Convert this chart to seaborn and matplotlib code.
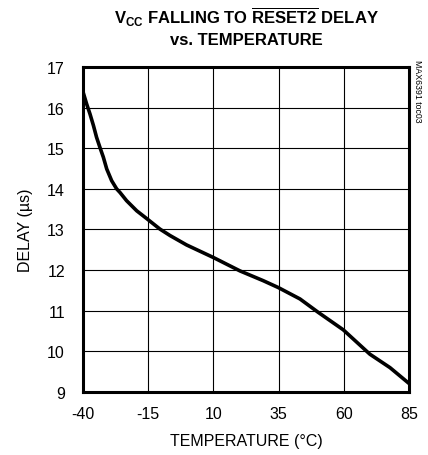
import numpy as np
import pandas as pd
import seaborn as sns
import matplotlib.pyplot as plt

# values
temp = [-40, -38.6, -37.3, -36.0, -34.8, -33.5, -32.2, -30.9, -29.0, -27.1, -25.8, -23.3,
        -19.4, -15.6, -10.5, -6.6, -0.3, 10.0, 20.2, 29.1, 34.9, 43.2, 50.2, 59.8, 70.0, 77.7, 85]
delay = [16.39, 16.09, 15.84, 15.56, 15.27, 15.02, 14.78, 14.49, 14.20, 14.00, 13.91, 13.71,
         13.46, 13.27, 13.01, 12.85, 12.62, 12.31, 11.98, 11.74, 11.57, 11.29, 10.96, 10.53, 9.93, 9.60, 9.21]
xticks = [-40, -15, 10, 35, 60, 85]
yticks = [9, 10, 11, 12, 13, 14, 15, 16, 17]

df = pd.DataFrame({"temp": temp, "delay": delay})

sns.set_style("white")
plt.rcParams['font.family'] = ['Liberation Sans', 'DejaVu Sans']
plt.rcParams['mathtext.fontset'] = 'custom'
plt.rcParams['mathtext.rm'] = 'Liberation Sans:bold'
plt.rcParams['mathtext.bf'] = 'Liberation Sans:bold'
plt.rcParams['axes.unicode_minus'] = False
plt.rcParams['text.color'] = 'black'
plt.rcParams['axes.labelcolor'] = 'black'

fig = plt.figure(figsize=(4.28, 4.56), dpi=100)
ax = fig.add_axes([0.1939, 0.1382, 0.7617, 0.7127])

sns.lineplot(data=df, x="temp", y="delay", ax=ax, color="black", linewidth=2.6)

ax.set_xlim(-40, 85)
ax.set_ylim(9, 17)
ax.set_xticks(xticks)
ax.set_yticks(yticks)
ax.tick_params(axis="both", length=0, labelsize=11.5, colors="black")
ax.tick_params(axis="y", pad=13)
ax.tick_params(axis="x", pad=10)
ax.grid(True, color="black", linewidth=0.8)
for s in ax.spines.values():
    s.set_linewidth(2.2)
    s.set_color("black")

ax.set_xlabel("TEMPERATURE (°C)", fontsize=11.5, labelpad=9)
ax.set_ylabel("DELAY (µs)", fontsize=11.5, labelpad=10)

fig.text(0.575, 0.962, r"V$_{\mathregular{CC}}$ FALLING TO $\overline{\mathregular{RESET2}}$ DELAY",
         ha="center", va="center", fontsize=12, fontweight="bold")
fig.text(0.575, 0.912, "vs. TEMPERATURE", ha="center", va="center", fontsize=12, fontweight="bold")
fig.text(0.975, 0.80, "MAX6391 toc03", rotation=270, ha="center", va="center", fontsize=6.3)

plt.savefig("out.png", dpi=100)
